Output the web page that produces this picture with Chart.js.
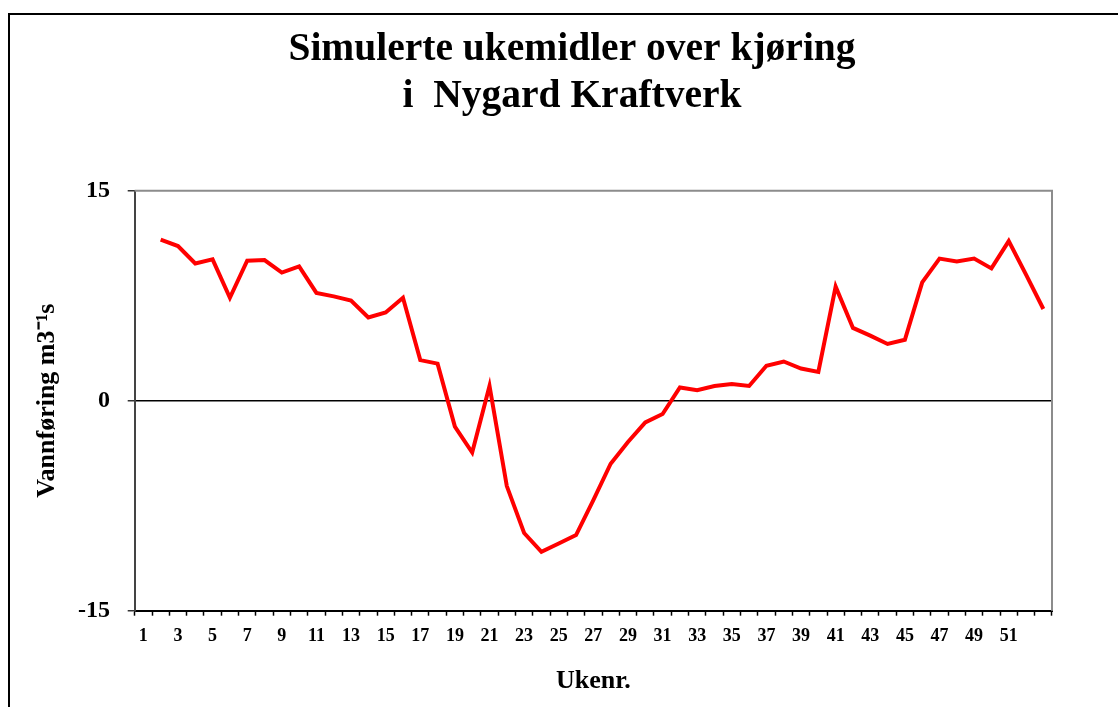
<!DOCTYPE html>
<html>
<head>
<meta charset="utf-8">
<script src="https://cdn.jsdelivr.net/npm/chart.js@4/dist/chart.umd.min.js"></script>
<style>
  html, body { margin: 0; padding: 0; background: #fff; overflow: hidden; }
  #frame { position: absolute; left: 8px; top: 13px; width: 1300px; height: 900px; border: 2px solid #000; }
  #c { position: absolute; left: 0; top: 0; }
</style>
</head>
<body>
<div id="frame"></div>
<canvas id="c" width="1118" height="707"></canvas>
<script>
const titleLines = ['Simulerte ukemidler over kjøring', 'i  Nygard Kraftverk'];
const xTitle = 'Ukenr.';
const yTitle = 'Vannføring m3\u207B\u00B9s';
const weeks = ['1','2','3','4','5','6','7','8','9','10','11','12','13','14','15','16','17','18','19','20',
  '21','22','23','24','25','26','27','28','29','30','31','32','33','34','35','36','37','38','39','40',
  '41','42','43','44','45','46','47','48','49','50','51','52','53'];
const shownWeekLabels = ['1','3','5','7','9','11','13','15','17','19','21','23','25','27','29','31','33','35','37','39','41','43','45','47','49','51'];
const flow = [null, 11.5, 11.05, 9.8, 10.1, 7.35, 10.0, 10.05, 9.15, 9.6, 7.7, 7.45, 7.15, 5.95, 6.3, 7.35,
  2.9, 2.65, -1.85, -3.7, 1.05, -6.1, -9.45, -10.8, -10.2, -9.6, -7.1, -4.5, -2.95, -1.55, -0.95,
  0.95, 0.75, 1.05, 1.2, 1.05, 2.5, 2.8, 2.3, 2.05, 8.15, 5.2, 4.65, 4.05, 4.35, 8.45, 10.15, 9.95,
  10.15, 9.45, 11.4, 9.0, 6.55];
const yTicks = [15, 0, -15];

Chart.defaults.font.family = "'Liberation Serif', 'Times New Roman', serif";
Chart.defaults.font.weight = 'bold';
Chart.defaults.color = '#000';

const frameTR = {
  id: 'frameTR',
  beforeDatasetsDraw(chart) {
    const a = chart.chartArea, ctx = chart.ctx;
    ctx.save();
    ctx.strokeStyle = '#8c8c8c';
    ctx.lineWidth = 2;
    ctx.beginPath();
    ctx.moveTo(a.left, a.top);
    ctx.lineTo(a.right, a.top);
    ctx.lineTo(a.right, a.bottom);
    ctx.stroke();
    ctx.restore();
  }
};

new Chart(document.getElementById('c'), {
  type: 'line',
  data: {
    labels: weeks,
    datasets: [{
      data: flow,
      borderColor: '#ff0000',
      borderWidth: 4,
      pointRadius: 0,
      tension: 0,
      fill: false,
      spanGaps: false
    }]
  },
  options: {
    responsive: false,
    animation: false,
    layout: { padding: { left: 26, right: 0, top: 14, bottom: 0 } },
    plugins: {
      legend: { display: false },
      tooltip: { enabled: false },
      title: {
        display: true,
        text: titleLines,
        color: '#000',
        font: { size: 39.5, weight: 'bold', lineHeight: 1.19 },
        padding: { top: 12.5, bottom: 70.2 }
      }
    },
    scales: {
      x: {
        type: 'category',
        offset: true,
        grid: { display: true, offset: true, drawOnChartArea: false, drawTicks: true, tickLength: 5, tickColor: '#000', tickWidth: 1.5 },
        border: { display: true, color: '#000', width: 2 },
        ticks: {
          autoSkip: false, maxRotation: 0, minRotation: 0, padding: 10,
          font: { size: 18, weight: 'bold' }, color: '#000',
          callback: function(v) { const l = this.getLabelForValue(v); return shownWeekLabels.includes(l) ? l : ''; }
        },
        title: { display: true, text: xTitle, color: '#000', font: { size: 26, weight: 'bold' }, padding: { top: 0, bottom: 10 } },
        afterFit: s => { s.height = 96.3; }
      },
      y: {
        type: 'linear',
        position: 'left',
        min: -15, max: 15,
        afterBuildTicks: s => { s.ticks = yTicks.map(v => ({ value: v })); },
        grid: {
          drawOnChartArea: true, drawTicks: true, tickLength: 7, tickColor: '#333', tickWidth: 1.5,
          color: c => (c.tick && c.tick.value === 0) ? '#000' : 'rgba(0,0,0,0)',
          lineWidth: 1.5
        },
        border: { display: true, color: '#444', width: 2 },
        ticks: { padding: 17.7, font: { size: 24, weight: 'bold' }, color: '#000' },
        title: { display: true, text: yTitle, color: '#000', font: { size: 26, weight: 'bold' }, padding: { top: 6, bottom: 0 } },
        afterFit: s => { s.width = 108.7; }
      },
      yR: {
        type: 'linear',
        position: 'right',
        display: true,
        grid: { display: false },
        border: { display: false },
        ticks: { display: false },
        afterFit: s => { s.width = 66; }
      }
    }
  },
  plugins: [frameTR]
});
</script>
</body>
</html>
